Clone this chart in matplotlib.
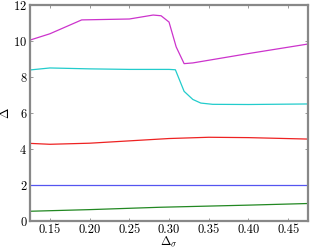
import matplotlib
matplotlib.use("Agg")
import matplotlib.pyplot as plt
import numpy as np

plt.rcParams['font.family'] = 'cmr10'
plt.rcParams['mathtext.fontset'] = 'cm'
plt.rcParams['axes.formatter.use_mathtext'] = True

# Delta_sigma values (x) and the five Delta curves
x_mag = [0.125, 0.15, 0.19, 0.25, 0.28, 0.29, 0.30, 0.309, 0.319, 0.33, 0.40, 0.475]
y_mag = [10.05, 10.4, 11.17, 11.22, 11.44, 11.4, 11.05, 9.67, 8.74, 8.78, 9.3, 9.83]

x_cyan = [0.125, 0.15, 0.2, 0.25, 0.30, 0.308, 0.319, 0.33, 0.34, 0.355, 0.40, 0.475]
y_cyan = [8.39, 8.5, 8.45, 8.42, 8.42, 8.4, 7.2, 6.75, 6.55, 6.48, 6.47, 6.5]

x_red = [0.125, 0.15, 0.2, 0.25, 0.3, 0.35, 0.4, 0.475]
y_red = [4.31, 4.26, 4.32, 4.45, 4.58, 4.65, 4.63, 4.55]

x_blue = [0.125, 0.475]
y_blue = [2.0, 2.0]

x_green = [0.125, 0.2, 0.2875, 0.4, 0.475]
y_green = [0.54, 0.63, 0.76, 0.88, 0.97]

xticks = [0.15, 0.20, 0.25, 0.30, 0.35, 0.40, 0.45]
yticks = [0, 2, 4, 6, 8, 10, 12]

fig = plt.figure(figsize=(3.1, 2.48), dpi=100)
ax = fig.add_axes([0.097, 0.109, 0.8965, 0.871])

ax.plot(x_mag, y_mag, color='#cc33cc', lw=0.9)
ax.plot(x_cyan, y_cyan, color='#22cccc', lw=0.9)
ax.plot(x_red, y_red, color='#ee2222', lw=0.9)
ax.plot(x_blue, y_blue, color='#5555f0', lw=0.9)
ax.plot(x_green, y_green, color='#228822', lw=0.9)

ax.set_xlim(0.125, 0.475)
ax.set_ylim(0, 12)
ax.set_xticks(xticks)
ax.set_xticklabels(['%.2f' % t for t in xticks])
ax.set_yticks(yticks)

for s in ax.spines.values():
    s.set_color('#888888')
    s.set_linewidth(1.6)
ax.tick_params(direction='in', top=True, right=True, length=2.5, width=0.6,
               color='#888888', labelsize=9, pad=2)

ax.set_xlabel(r'$\Delta_\sigma$', fontsize=9, labelpad=-1)
ax.set_ylabel(r'$\Delta$', fontsize=9, labelpad=1)

fig.savefig('out.png', dpi=100)
